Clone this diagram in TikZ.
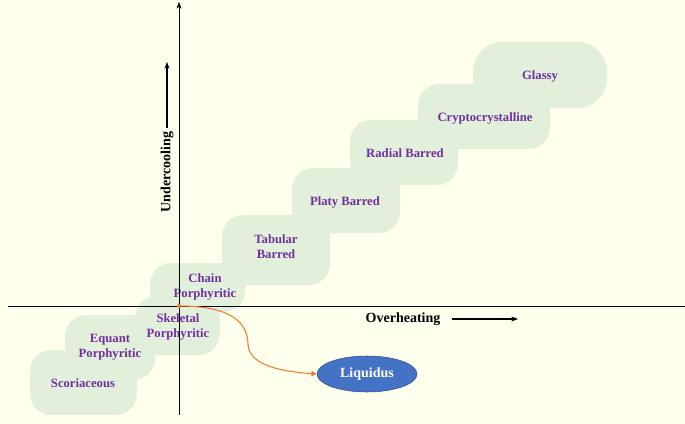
\documentclass[tikz,border=0pt]{standalone}
\usepackage{fontspec}
\setmainfont{Liberation Serif}
\usetikzlibrary{arrows.meta,shapes.geometric}
\definecolor{bgyellow}{HTML}{FFFFEE}
\definecolor{stepgreen}{HTML}{E2EFDA}
\definecolor{textpurple}{HTML}{7030A0}
\definecolor{liqblue}{HTML}{4472C4}
\definecolor{curveorange}{HTML}{ED7D31}
\tikzset{
  stage/.style={fill=stepgreen,rounded corners=16pt},
  stagetext/.style={text=textpurple,font=\bfseries\fontsize{9.5}{11}\selectfont,align=center},
  axislabel/.style={font=\bfseries\fontsize{10.5}{12}\selectfont}
}
\begin{document}
\begin{tikzpicture}[x=0.75pt,y=-0.75pt]
\fill[bgyellow] (0,0) rectangle (685,424);
\useasboundingbox (0,0) rectangle (685,424);
%stages
\fill[stage] (30,350) rectangle (137,415);
\fill[stage] (65,315) rectangle (155,380);
\fill[stage] (135,296) rectangle (220,355);
\fill[stage] (150,263) rectangle (245,312);
\fill[stage] (222,215) rectangle (330,285);
\fill[stage] (292,168) rectangle (400,233);
\fill[stage] (350,120) rectangle (458,185);
\fill[stage] (418,84) rectangle (550,149);
\fill[stage,rounded corners=22pt] (473,42) rectangle (607,108);
\node[stagetext] (scor) at (83,383) {Scoriaceous};
\node[stagetext] (equant) at (110,347) {Equant\\Porphyritic};
\node[stagetext] (skel) at (178,327) {Skeletal\\Porphyritic};
\node[stagetext] (chain) at (205,287) {Chain\\Porphyritic};
\node[stagetext] (tab) at (276,247) {Tabular\\Barred};
\node[stagetext] (platy) at (345,202) {Platy Barred};
\node[stagetext] (radial) at (405,153) {Radial Barred};
\node[stagetext] (crypto) at (485,118) {Cryptocrystalline};
\node[stagetext] (glassy) at (540,76) {Glassy};
%axes
\coordinate (origin) at (179,306);
\draw[thin] (8,306) -- (685,306);
\draw[thin,-{Stealth[length=5pt]}] (179,415) -- (179,2);
\node[axislabel] (over) at (403,319) {Overheating};
\draw[line width=1.5pt,-{Stealth[length=5pt]}] (452,319) -- (518,319);
\node[axislabel,rotate=90] (under) at (167,172) {Undercooling};
\draw[line width=1.5pt,-{Stealth[length=5pt]}] (167,128) -- (167,62);
%liquidus
\node[ellipse,draw=liqblue!70!black,fill=liqblue,minimum width=75pt,minimum height=27pt,
  text=white,axislabel] (liq) at (367,374) {Liquidus};
\fill[curveorange] (origin) circle (1.5pt);
\draw[curveorange,thick,-{Triangle[length=4pt,width=4pt]}] (origin)
  .. controls (235,306) and (248,325) .. (248,345)
  .. controls (250,368) and (290,372) .. (liq.west);
\end{tikzpicture}
\end{document}
